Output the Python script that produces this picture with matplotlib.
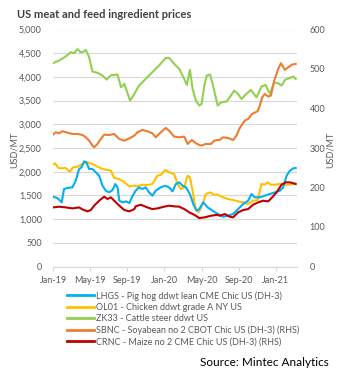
import matplotlib
matplotlib.use("Agg")
import matplotlib.pyplot as plt
from matplotlib.lines import Line2D

plt.rcParams['font.family'] = ['Lato', 'DejaVu Sans']

# Time axis is in months since Jan 2019
tick_months = [0, 4, 8, 12, 16, 20, 24]
tick_labels = ["Jan-19", "May-19", "Sep-19", "Jan-20", "May-20", "Sep-20", "Jan-21"]

# LHGS - pig hog (USD/MT, left axis)
pig_m = [0.0, 0.47, 0.94, 1.19, 1.55, 2.09, 2.45, 2.81, 3.06, 3.35, 3.60, 3.89, 4.25, 4.61,
         4.97, 5.33, 5.69, 6.05, 6.41, 6.70, 6.95, 7.14, 7.50, 7.86, 8.22, 8.58, 8.90, 9.26,
         9.62, 9.98, 10.34, 10.70, 11.06, 11.60, 12.07, 12.50, 12.86, 13.23, 13.59, 13.95,
         14.31, 14.74, 15.10, 15.46, 15.75, 16.18, 16.65, 17.19, 17.73, 18.31, 18.85, 19.39,
         19.93, 20.47, 21.01, 21.37, 21.73, 22.27, 22.81, 23.35, 23.89, 24.43, 24.79, 25.15,
         25.51, 25.87, 26.13]
pig_v = [1473, 1445, 1353, 1635, 1656, 1670, 1811, 2057, 2092, 2219, 2198, 2057, 2057, 1987,
         1916, 1705, 1599, 1564, 1613, 1740, 1670, 1388, 1353, 1374, 1339, 1494, 1599, 1670,
         1635, 1670, 1564, 1494, 1599, 1670, 1705, 1670, 1585, 1740, 1776, 1705,
         1670, 1529, 1318, 1177, 1212, 1353, 1247, 1177, 1107, 1050, 1071, 1107,
         1212, 1318, 1388, 1529, 1459, 1459, 1494, 1529, 1564, 1599, 1670, 1916,
         2022, 2071, 2078]

# OL01 - chicken (USD/MT, left axis)
chicken_m = [0.0, 0.22, 0.58, 1.01, 1.37, 1.80, 2.16, 2.63, 3.17, 3.71, 4.25, 4.79, 5.33, 5.87,
             6.23, 6.59, 7.14, 7.68, 8.22, 8.76, 9.08, 9.62, 10.16, 10.70, 11.24, 11.60, 12.07,
             12.50, 13.05, 13.41, 13.77, 14.13, 14.49, 14.74, 15.03, 15.32, 15.68, 16.11,
             16.47, 16.90, 17.37, 17.73, 18.31, 18.85, 19.39, 19.93, 20.47, 21.01, 21.55,
             22.02, 22.45, 22.81, 23.10, 23.46, 23.89, 24.43, 24.97, 25.51, 26.05]
chicken_v = [2148, 2177, 2078, 2071, 2078, 2000, 2092, 2106, 2162, 2198, 2162, 2106, 2057, 2036,
             2022, 1867, 1846, 1776, 1691, 1705, 1691, 1726, 1719, 1740, 1916, 1930, 2036,
             1987, 1952, 1740, 1634, 1670, 1916, 1881, 1599, 1247, 1142, 1318,
             1529, 1564, 1515, 1515, 1459, 1424, 1402, 1374, 1353, 1318, 1388,
             1402, 1740, 1726, 1776, 1726, 1726, 1740, 1726, 1726, 1755]

# ZK33 - cattle steer (USD/MT, left axis)
cattle_m = [0.0, 0.65, 1.37, 1.91, 2.27, 2.63, 2.99, 3.35, 3.53, 3.89, 4.25, 4.79, 5.33, 5.77,
            6.23, 6.95, 7.32, 7.68, 7.93, 8.29, 8.54, 8.76, 9.26, 9.98, 10.70, 11.42, 12.14,
            12.50, 13.05, 13.59, 14.13, 14.41, 14.74, 15.03, 15.39, 15.75, 16.00, 16.29,
            16.54, 16.90, 17.19, 17.48, 17.73, 18.13, 18.67, 19.03, 19.50, 19.93, 20.29,
            20.83, 21.30, 21.91, 22.45, 22.88, 23.35, 23.82, 24.25, 24.61, 24.97, 25.51,
            25.87, 26.13]
cattle_v = [4289, 4345, 4430, 4521, 4500, 4585, 4520, 4540, 4570, 4415, 4113, 4085, 4030, 3944,
            4035, 4050, 3782, 3852, 3711, 3500, 3570, 3641, 3817, 3958, 4099, 4240, 4401,
            4401, 4275, 4169, 3958, 3831, 4148, 3747, 3500, 3395, 3430, 3817,
            4028, 4050, 3852, 3606, 3395, 3465, 3479, 3570, 3711, 3641, 3535,
            3641, 3726, 3570, 3796, 3831, 3641, 3887, 3866, 3817, 3937, 3979,
            4007, 3958]

# SBNC - soyabean (USD/MT, right axis)
soy_m = [0.0, 0.29, 0.65, 1.01, 1.55, 2.09, 2.63, 3.17, 3.53, 3.89, 4.25, 4.43, 4.79, 5.15,
         5.51, 6.05, 6.59, 7.14, 7.68, 8.22, 8.76, 9.08, 9.62, 10.16, 10.70, 11.06, 11.60,
         12.14, 12.50, 13.05, 13.59, 14.13, 14.49, 14.95, 15.39, 15.93, 16.47, 17.01, 17.37,
         17.73, 17.95, 18.31, 18.85, 19.39, 19.75, 20.11, 20.65, 21.01, 21.44, 22.02, 22.27,
         22.52, 22.81, 23.17, 23.46, 23.82, 24.25, 24.54, 24.97, 25.33, 25.77, 26.13]
soy_v = [333.8, 339.7, 337.2, 342.4, 338.9, 335.5, 335.5, 333.0, 327.1, 318.6, 306.0, 301.8,
         310.2, 322.8, 333.8, 333.0, 335.5, 322.8, 318.6, 324.6, 331.3, 339.7, 345.7, 342.4,
         337.2, 327.1, 339.7, 350.8, 344.0, 328.8, 327.1, 328.8, 310.2, 320.3, 311.9, 306.0,
         310.2, 310.2, 318.6, 320.3, 320.3, 327.1, 325.4, 320.3, 331.3, 350.8, 369.4, 373.6,
         386.3, 393.0, 407.4, 428.4, 436.9, 430.2, 432.7, 470.8, 500.3, 514.7, 497.8, 504.5,
         511.3, 513.0]

# CRNC - maize (USD/MT, right axis)
maize_m = [0.0, 0.65, 1.37, 2.09, 2.81, 3.17, 3.71, 4.07, 4.43, 4.97, 5.51, 5.87, 6.23, 6.59,
           7.14, 7.68, 8.22, 8.76, 8.90, 9.44, 10.16, 10.70, 11.24, 11.96, 12.50, 13.05,
           13.59, 14.13, 14.67, 15.21, 15.75, 16.29, 17.01, 17.73, 17.95, 18.49, 19.03,
           19.39, 19.93, 20.47, 21.01, 21.55, 22.09, 22.63, 23.17, 23.60, 24.07, 24.61,
           25.05, 25.51, 25.87, 26.13]
maize_v = [149.6, 151.4, 149.6, 147.1, 149.6, 144.6, 139.6, 142.9, 154.0, 166.6, 176.8, 170.9,
           175.1, 166.6, 154.0, 142.9, 139.6, 145.4, 152.3, 156.5, 149.6, 145.4, 147.1, 151.4,
           154.0, 152.3, 151.4, 145.4, 137.0, 131.0, 122.6, 124.3, 128.5, 131.0, 128.5,
           132.8, 126.0, 124.3, 137.0, 142.9, 145.4, 156.5, 162.4, 166.6, 164.9, 175.1,
           187.7, 207.1, 213.1, 213.1, 210.6, 208.8]

names = ["LHGS - Pig hog ddwt lean CME Chic US (DH-3)",
         "OL01 - Chicken ddwt grade A NY US",
         "ZK33 - Cattle steer ddwt US",
         "SBNC - Soyabean no 2 CBOT Chic US (DH-3) (RHS)",
         "CRNC - Maize no 2 CME Chic US (DH-3) (RHS)"]
colors = ["#00b0f0", "#ffc000", "#92d050", "#ed7d31", "#c00000"]

W, H = 343, 369
fig = plt.figure(figsize=(W / 100, H / 100), dpi=100)
ax = fig.add_axes([53 / W, 1 - 266.5 / H, 244 / W, 237 / H])
ax2 = ax.twinx()

grey = "#595959"
lw = 1.5
ax.plot(cattle_m, cattle_v, color=colors[2], lw=lw, zorder=3)
ax.plot(chicken_m, chicken_v, color=colors[1], lw=lw, zorder=3)
ax.plot(pig_m, pig_v, color=colors[0], lw=lw, zorder=4)
ax2.plot(soy_m, soy_v, color=colors[3], lw=lw, zorder=3)
ax2.plot(maize_m, maize_v, color=colors[4], lw=lw, zorder=3)

ax.set_xlim(0, 26.27)
ax.set_ylim(0, 5000)
ax2.set_ylim(0, 600)
ax.set_yticks(range(0, 5001, 500))
ax.set_yticklabels([f"{v:,}" for v in range(0, 5001, 500)])
ax2.set_yticks(range(0, 601, 100))
ax.set_xticks(tick_months)
ax.set_xticklabels(tick_labels)

ax.grid(axis="y", color="#d9d9d9", lw=0.9)
ax.set_axisbelow(True)
for a in (ax, ax2):
    for s in a.spines.values():
        s.set_visible(False)
ax.spines["bottom"].set_visible(True)
ax.spines["bottom"].set_color("#d9d9d9")
ax.tick_params(axis="y", length=0, pad=8, labelsize=6.5, labelcolor=grey)
ax2.tick_params(axis="y", length=0, pad=9, labelsize=6.5, labelcolor=grey)
ax.tick_params(axis="x", length=3, color="#d9d9d9", pad=4, labelsize=6.5, labelcolor=grey)

fig.text(14 / W, 1 - 150 / H, "USD/MT", rotation=90, ha="center", va="center",
         fontsize=6.5, color=grey)
fig.text(330 / W, 1 - 150 / H, "USD/MT", rotation=90, ha="center", va="center",
         fontsize=6.5, color=grey)

fig.text(17 / W, 1 - 15 / H, "US meat and feed ingredient prices", ha="left", va="center",
         fontsize=8, fontweight="bold", color="#404040")

handles = [Line2D([], [], color=c, lw=2) for c in colors]
fig.legend(handles, names, loc="upper left", bbox_to_anchor=(67 / W, 1 - 291 / H),
           frameon=False, fontsize=6.5, labelcolor=grey, handlelength=3.0,
           handletextpad=0.2, labelspacing=0.25, borderaxespad=0, borderpad=0)

fig.text(329 / W, 1 - 362 / H, "Source: Mintec Analytics", ha="right", va="center",
         fontsize=8.5, color="black")

fig.savefig("out.png", dpi=100)
